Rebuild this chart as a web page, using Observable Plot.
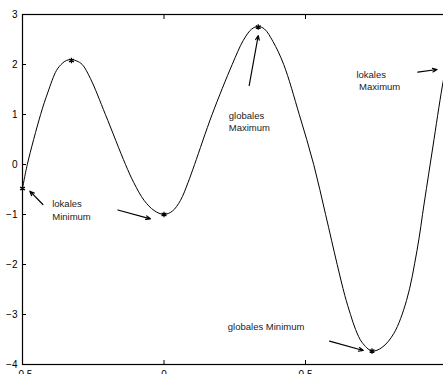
<!DOCTYPE html>
<html>
<head>
<meta charset="utf-8">
<script src="https://cdn.jsdelivr.net/npm/d3@7"></script>
<script src="https://cdn.jsdelivr.net/npm/@observablehq/plot@0.6"></script>
<style>
  html, body { margin: 0; padding: 0; overflow: hidden; background: #fff; }
  svg { display: block; }
</style>
</head>
<body>
<div id="chart"></div>
<script>
// Curve samples
const curveX = [-0.5, -0.483, -0.436, -0.41, -0.38, -0.36, -0.345, -0.327, -0.308, -0.289, -0.26, -0.207, -0.136, -0.107, -0.07, -0.035, 0, 0.03, 0.058, 0.085, 0.108, 0.17, 0.241, 0.28, 0.31, 0.333, 0.355, 0.385, 0.423, 0.478, 0.529, 0.571, 0.612, 0.639, 0.659, 0.677, 0.70, 0.735, 0.77, 0.812, 0.857, 0.894, 0.92, 0.95, 0.983, 1.0];
const curveY = [-0.48, 0, 1, 1.45, 1.88, 2.02, 2.08, 2.1, 2.07, 2.0, 1.72, 1, 0, -0.36, -0.72, -0.92, -1, -0.93, -0.72, -0.36, 0, 1, 2, 2.48, 2.71, 2.76, 2.71, 2.46, 2, 1, 0, -1, -2, -2.62, -3.0, -3.3, -3.56, -3.73, -3.66, -3.38, -2.72, -1.72, -0.75, 0.35, 1.55, 2.05];

// Marked extrema (asterisks)
const extremaX = [-0.5, -0.327, 0, 0.333, 0.735];
const extremaY = [-0.48, 2.08, -1, 2.75, -3.73];

// Annotation labels
const labelText = ["lokales\nMinimum", "globales\nMaximum", "lokales\n\u00a0Maximum", "globales Minimum"];
const labelX = [-0.395, 0.229, 0.680, 0.2255];
const labelY = [-0.9, 0.87, 1.69, -3.24];

// Annotation arrows
const arrowX1 = [-0.428, -0.163, 0.301, 0.897, 0.585];
const arrowY1 = [-0.80, -0.91, 1.58, 1.846, -3.534];
const arrowX2 = [-0.474, -0.048, 0.333, 0.965, 0.704];
const arrowY2 = [-0.534, -1.086, 2.58, 1.90, -3.72];

// Axis ticks
const xTicks = [-0.5, 0, 0.5, 1];
const yTicks = [-4, -3, -2, -1, 0, 1, 2, 3];

const curve = curveX.map((x, i) => ({x, y: curveY[i]}));
const extrema = extremaX.map((x, i) => ({x, y: extremaY[i]}));
const labels = labelText.map((t, i) => ({t, x: labelX[i], y: labelY[i]}));
const arrows = arrowX1.map((x1, i) => ({x1, y1: arrowY1[i], x2: arrowX2[i], y2: arrowY2[i]}));

const font = "'Liberation Sans', Arial, Helvetica, sans-serif";
const fmt = d3.format("");

const chart = Plot.plot({
  width: 443,
  height: 384,
  marginLeft: 22,
  marginRight: -3.5,
  marginTop: 14,
  marginBottom: 20,
  style: {fontFamily: font, fontSize: "10px", color: "black", background: "white"},
  x: {domain: [-0.5, 1]},
  y: {domain: [-4, 3]},
  marks: [
    Plot.axisY(yTicks, {anchor: "left", tickSize: -4, tickPadding: 9, tickFormat: fmt, label: null, fontSize: 10}),
    Plot.axisX(xTicks, {anchor: "bottom", tickSize: -4, tickPadding: 10, tickFormat: fmt, label: null, fontSize: 10}),
    Plot.axisX(xTicks, {anchor: "top", tickSize: -4, tickFormat: () => "", label: null}),
    Plot.frame({stroke: "black", strokeWidth: 1.2}),
    Plot.line(curve, {x: "x", y: "y", stroke: "black", strokeWidth: 1, curve: "catmull-rom"}),
    Plot.dot(extrema, {x: "x", y: "y", symbol: "asterisk", r: 2.6, stroke: "black", strokeWidth: 1.2}),
    Plot.arrow(arrows, {x1: "x1", y1: "y1", x2: "x2", y2: "y2", stroke: "black", strokeWidth: 1.2, headLength: 6, headAngle: 45}),
    Plot.text(labels, {x: "x", y: "y", text: "t", textAnchor: "start", lineAnchor: "middle", fontSize: 9.5, lineHeight: 1.3, fill: "#222", fontFamily: font})
  ]
});
document.getElementById("chart").appendChild(chart);
</script>
</body>
</html>
